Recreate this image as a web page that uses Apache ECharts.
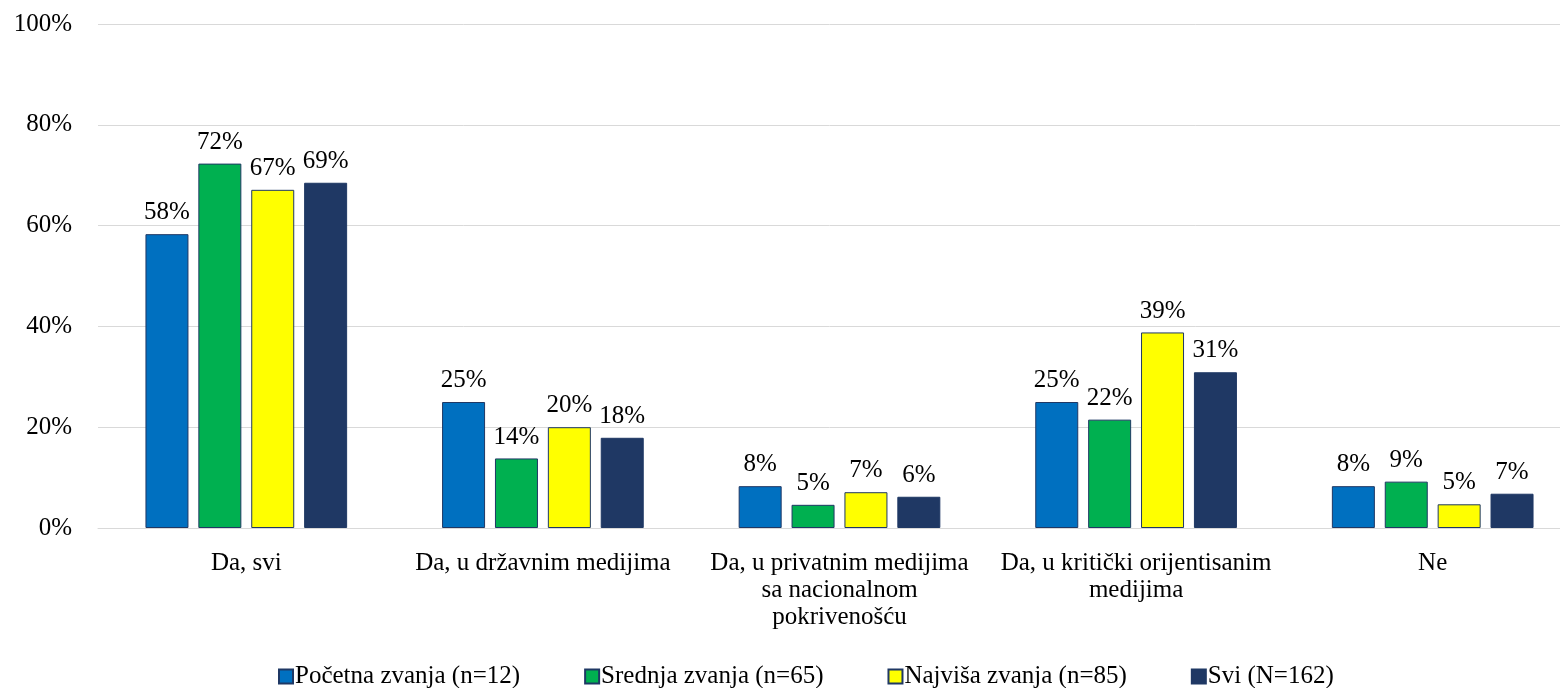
<!DOCTYPE html>
<html>
<head>
<meta charset="utf-8">
<script src="https://cdn.jsdelivr.net/npm/echarts@6/dist/echarts.min.js"></script>
<style>
  html, body { margin: 0; padding: 0; background: #fff; }
  #chart { width: 1560px; height: 688px; }
</style>
</head>
<body>
<div id="chart"></div>
<script>
const categories = [
  'Da, svi',
  'Da, u državnim medijima',
  'Da, u privatnim medijima\nsa nacionalnom\npokrivenošću',
  'Da, u kritički orijentisanim\nmedijima',
  'Ne'
]
const seriesNames = ['Početna zvanja (n=12)', 'Srednja zvanja (n=65)', 'Najviša zvanja (n=85)', 'Svi (N=162)']
const pocetna = [58.3, 25.0, 8.3, 25.0, 8.3]
const srednja = [72.3, 13.8, 4.6, 21.5, 9.2]
const najvisa = [67.1, 20.0, 7.1, 38.8, 4.7]
const svi = [68.5, 17.9, 6.2, 30.9, 6.8]
const colors = ['#0070C0', '#00B050', '#FFFF00', '#1F3864']

const font = '"Liberation Serif", "Times New Roman", serif'
const chart = echarts.init(document.getElementById('chart'))

const makeSeries = (name, data, i) => ({
  name: name,
  type: 'bar',
  data: data,
  barWidth: 43,
  barGap: '23%',
  itemStyle: {
    color: colors[i],
    borderColor: '#1F3864',
    borderWidth: 1
  },
  label: {
    show: true,
    position: 'top',
    distance: 9,
    color: '#000',
    fontFamily: font,
    fontSize: 25,
    formatter: p => Math.round(p.value) + '%'
  }
})

chart.setOption({
  animation: false,
  textStyle: { fontFamily: font },
  // plot area runs a little past the right edge, as in the source image
  grid: { left: 98, right: -21, top: 24, bottom: 160, outerBoundsMode: 'none' },
  legend: {
    bottom: -6,
    left: 273,
    itemWidth: 14,
    itemHeight: 14,
    itemGap: 64,
    icon: 'rect',
    textStyle: { fontFamily: font, fontSize: 25, color: '#000', padding: [0, 0, 0, -3] },
    data: seriesNames
  },
  xAxis: {
    type: 'category',
    data: categories,
    axisLine: { show: true, lineStyle: { color: '#D9D9D9' } },
    axisTick: { show: false },
    axisLabel: {
      color: '#000',
      fontFamily: font,
      fontSize: 25,
      lineHeight: 27,
      margin: 22,
      interval: 0
    }
  },
  yAxis: {
    type: 'value',
    min: 0,
    max: 100,
    interval: 20,
    axisLine: { show: false },
    axisTick: { show: false },
    axisLabel: {
      color: '#000',
      fontFamily: font,
      fontSize: 25,
      margin: 26,
      formatter: '{value}%'
    },
    splitLine: { lineStyle: { color: '#D9D9D9', width: 1 } }
  },
  series: [
    makeSeries(seriesNames[0], pocetna, 0),
    makeSeries(seriesNames[1], srednja, 1),
    makeSeries(seriesNames[2], najvisa, 2),
    makeSeries(seriesNames[3], svi, 3)
  ]
})
</script>
</body>
</html>
